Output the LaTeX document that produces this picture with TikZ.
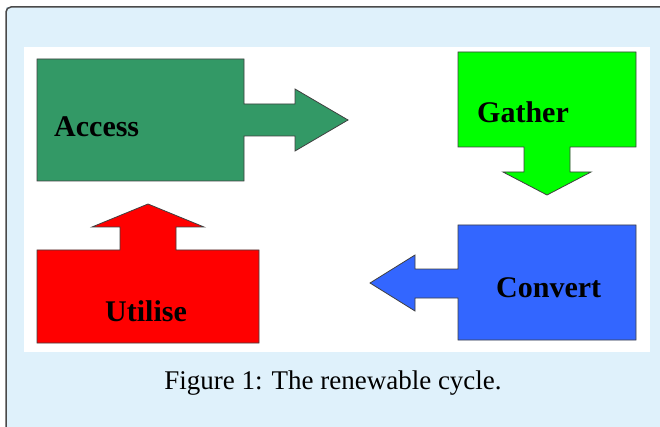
\documentclass[tikz,border=0pt]{standalone}
\usepackage{tikz}
\usepackage{fontspec}
\setmainfont{Liberation Serif}
\definecolor{panelblue}{HTML}{DFF1FB}
\definecolor{framegray}{HTML}{4A4A4A}
\definecolor{accessgreen}{HTML}{339966}
\definecolor{gathergreen}{HTML}{00FF00}
\definecolor{utilisered}{HTML}{FF0000}
\definecolor{convertblue}{HTML}{3366FF}
\begin{document}
\begin{tikzpicture}[x=1pt,y=-1pt,
  shapeline/.style={draw=black!75,line width=0.8pt,line join=miter},
  steplabel/.style={anchor=base west,inner sep=0pt,font=\fontsize{30}{30}\selectfont\bfseries}]
\useasboundingbox (0,0) rectangle (660,427);
\fill[panelblue](6,7)rectangle(660,427);
\draw[framegray][line width=1.5pt,rounded corners=5pt](6,427)--(6,7)--(660,7);
\fill[white](24,47)rectangle(650,352);
\draw[shapeline][fill=accessgreen](37,59)--(244,59)--(244,104)--(295,104)--(295,89)--(348,120)--(295,151)--(295,136)--(244,136)--(244,181)--(37,181)--cycle;
\draw[shapeline][fill=gathergreen](458,52)--(636,52)--(636,147)--(570,147)--(570,172)--(591,172)--(547,195)--(503,172)--(524,172)--(524,147)--(458,147)--cycle;
\draw[shapeline][fill=utilisered](37,250)--(120,250)--(120,227)--(92,227)--(148,204)--(204,227)--(176,227)--(176,250)--(259,250)--(259,343)--(37,343)--cycle;
\draw[shapeline][fill=convertblue](458,225)--(636,225)--(636,340)--(458,340)--(458,298)--(415,298)--(415,311)--(370,283)--(415,255)--(415,269)--(458,269)--cycle;
\node (access) at (54,137) [steplabel]{Access};
\node (gather) at (477,123) [steplabel]{Gather};
\node (utilise) at (105,321) [steplabel]{Utilise};
\node (convert) at (496,297) [steplabel]{Convert};
\node (caption) at (333,389) [anchor=base,inner sep=0pt,font=\fontsize{27}{27}\selectfont]{Figure 1: The renewable cycle.};
\end{tikzpicture}
\end{document}
